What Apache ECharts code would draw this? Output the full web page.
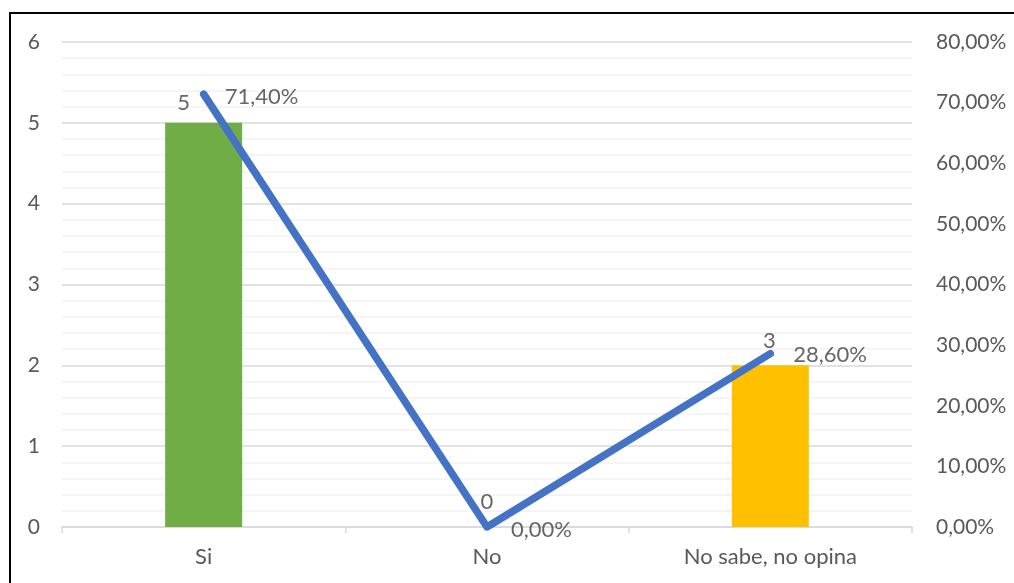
<!DOCTYPE html>
<html>
<head>
<meta charset="utf-8">
<script src="https://cdn.jsdelivr.net/npm/echarts@6/dist/echarts.min.js"></script>
<style>html,body{margin:0;padding:0;background:#fff;}#c{width:1014px;height:583px;}</style>
</head>
<body>
<div id="c"></div>
<script>
var categories = ['Si', 'No', 'No sabe, no opina'];
var barValues = [5, 0, 2];
var countLabels = [5, 0, 3];
var percentValues = [0.714, 0, 0.286];
var leftTicks = [0, 1, 2, 3, 4, 5, 6];
var rightTicks = [0, 0.1, 0.2, 0.3, 0.4, 0.5, 0.6, 0.7, 0.8];

var barColors = ['#70AD47', '#A5A5A5', '#FFC000'];
var countOffsets = [[-20, 9], [0, -25], [-1, -13]];
var pctOffsets = [[21, 3], [24, 3], [23, 1]];

function pct(v) { return (v * 100).toFixed(2).replace('.', ',') + '%'; }

var FONT = 'Lato';
var chart = echarts.init(document.getElementById('c'), null, {renderer: 'canvas'});
chart.setOption({
  animation: false,
  backgroundColor: '#fff',
  graphic: [{
    type: 'rect', shape: {x: 10, y: 13, width: 1100, height: 700},
    style: {fill: 'none', stroke: '#000', lineWidth: 2}, z: 100
  }],
  grid: {left: 62, right: 102, top: 42, bottom: 56, containLabel: false},
  xAxis: {
    type: 'category', data: categories, boundaryGap: true,
    axisLine: {lineStyle: {color: '#D9D9D9', width: 1.5}},
    axisTick: {show: true, length: 6, lineStyle: {color: '#D9D9D9', width: 1.5}},
    axisLabel: {color: '#595959', fontFamily: FONT, fontSize: 22, margin: 19}
  },
  yAxis: [{
    type: 'value', min: leftTicks[0], max: leftTicks[leftTicks.length - 1], interval: 1,
    axisLine: {show: false}, axisTick: {show: false},
    axisLabel: {color: '#595959', fontFamily: FONT, fontSize: 21, margin: 22},
    splitLine: {show: true, lineStyle: {color: '#D9D9D9', width: 1.5}},
    minorTick: {show: false, splitNumber: 5},
    minorSplitLine: {show: true, lineStyle: {color: '#F2F2F2', width: 1.5}}
  }, {
    type: 'value', min: rightTicks[0], max: rightTicks[rightTicks.length - 1], interval: 0.1,
    axisLine: {show: false}, axisTick: {show: false},
    axisLabel: {color: '#595959', fontFamily: FONT, fontSize: 21, margin: 24, formatter: pct},
    splitLine: {show: false}
  }],
  series: [{
    type: 'bar', yAxisIndex: 0, barWidth: 77,
    data: barValues.map(function (v, i) { return {value: v, itemStyle: {color: barColors[i]}}; }),
    label: {show: false}, z: 2
  }, {
    type: 'line', yAxisIndex: 1, data: percentValues,
    symbol: 'none', showSymbol: false,
    lineStyle: {color: '#4472C4', width: 7.5, cap: 'round', join: 'round'},
    z: 3
  }, {
    type: 'scatter', yAxisIndex: 1, symbolSize: 1,
    itemStyle: {color: 'rgba(0,0,0,0)'},
    data: percentValues.map(function (v, i) {
      return {value: v, label: {offset: pctOffsets[i]}};
    }),
    label: {show: true, position: 'inside', align: 'left', verticalAlign: 'middle',
      color: '#404040', fontFamily: FONT, fontSize: 22,
      formatter: function (p) { return pct(percentValues[p.dataIndex]); }},
    z: 4
  }, {
    type: 'scatter', yAxisIndex: 1, symbolSize: 1,
    itemStyle: {color: 'rgba(0,0,0,0)'},
    data: percentValues.map(function (v, i) {
      return {value: v, label: {offset: countOffsets[i]}};
    }),
    label: {show: true, position: 'inside', align: 'center', verticalAlign: 'middle',
      color: '#404040', fontFamily: FONT, fontSize: 22,
      formatter: function (p) { return String(countLabels[p.dataIndex]); }},
    z: 4
  }]
});
</script>
</body>
</html>
